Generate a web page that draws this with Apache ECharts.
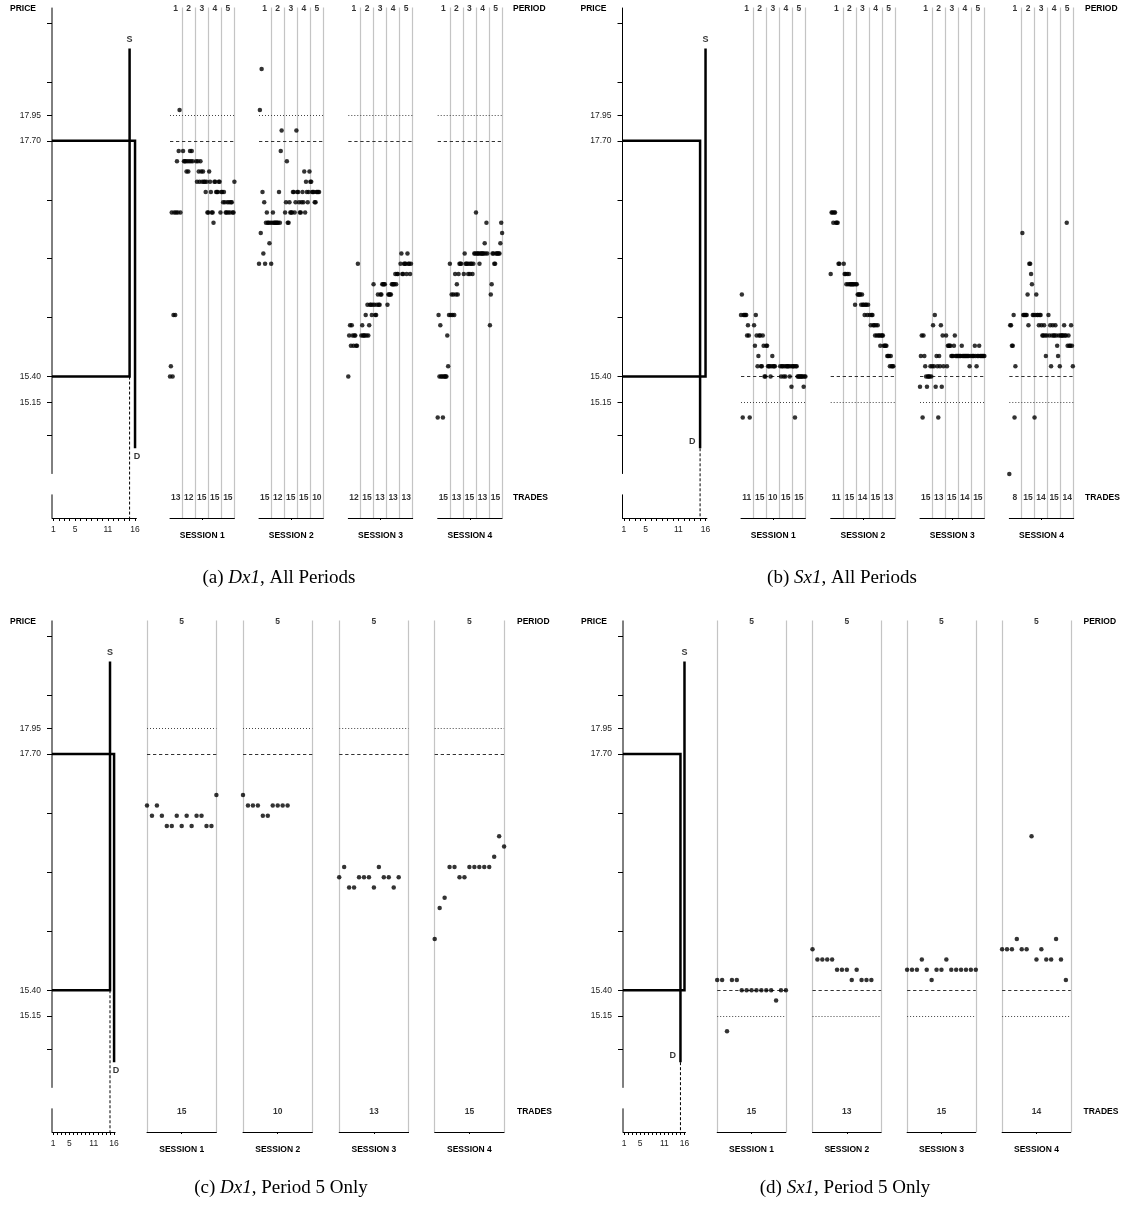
<!DOCTYPE html>
<html>
<head>
<meta charset="utf-8">
<script src="https://cdn.jsdelivr.net/npm/echarts@6/dist/echarts.min.js"></script>
<style>
  html, body { margin: 0; padding: 0; background: #fff; }
  #chart { width: 1126px; height: 1212px; }
</style>
</head>
<body>
<div id="chart"></div>
<script>
// ---------------- values ----------------
// Price axis
const priceTicks = [14.825, 15.15, 15.40, 15.975, 16.55, 17.125, 17.70, 17.95, 18.275, 18.85];
const priceTickLabels = [15.15, 15.40, 17.70, 17.95];
// Quantity axis
const quantityTicks = [1, 2, 3, 4, 5, 6, 7, 8, 9, 10, 11, 12, 13, 14, 15, 16];
const quantityTickLabels = [1, 5, 11, 16];

const sessionNames = ['SESSION 1', 'SESSION 2', 'SESSION 3', 'SESSION 4'];
const periodNames = ['1', '2', '3', '4', '5'];

// Induced supply and demand schedules
const dx1Supply = { units: 15, cost: 15.40 };
const dx1Demand = { units: 16, value: 17.70 };
const sx1Supply = { units: 16, cost: 15.40 };
const sx1Demand = { units: 15, value: 17.70 };

// Reference prices drawn across the session columns
const dx1RefPrices = { dashed: 17.70, dotted: 17.95 };
const sx1RefPrices = { dashed: 15.40, dotted: 15.15 };

// Contract prices, one list per period, in trading order (Dx1)
const dx1Session1 = [
  [15.40, 15.50, 17.00, 15.40, 16.00, 17.00, 16.00, 17.00, 17.50, 17.00, 17.60, 18.00, 17.00],
  [17.60, 17.50, 17.50, 17.50, 17.40, 17.50, 17.40, 17.50, 17.60, 17.50, 17.60, 17.50],
  [17.50, 17.30, 17.50, 17.40, 17.30, 17.50, 17.40, 17.30, 17.40, 17.30, 17.30, 17.20, 17.30, 17.00, 17.00],
  [17.40, 17.30, 17.20, 17.00, 17.00, 16.90, 17.30, 17.30, 17.20, 17.20, 17.20, 17.30, 17.30, 17.00, 17.20],
  [17.20, 17.10, 17.20, 17.10, 17.00, 17.00, 17.10, 17.00, 17.10, 17.00, 17.10, 17.10, 17.00, 17.00, 17.30]
];
const dx1Session2 = [
  [16.50, 18.00, 16.80, 18.40, 17.20, 16.60, 17.10, 16.50, 16.90, 17.00, 16.90, 16.90, 16.70, 16.90, 16.50],
  [16.90, 17.00, 16.90, 16.90, 16.90, 16.90, 16.90, 16.90, 17.20, 16.90, 17.60, 17.80],
  [17.00, 17.10, 17.50, 16.90, 16.90, 17.10, 17.00, 17.00, 17.00, 17.20, 17.20, 17.00, 17.10, 17.80, 17.20],
  [17.20, 17.10, 17.00, 17.00, 17.10, 17.20, 17.10, 17.40, 17.00, 17.30, 17.20, 17.10, 17.20, 17.40, 17.30],
  [17.30, 17.20, 17.20, 17.20, 17.10, 17.10, 17.20, 17.20, 17.20, 17.20]
];
const dx1Session3 = [
  [15.40, 15.80, 15.90, 15.70, 15.90, 15.80, 15.70, 15.80, 15.80, 15.70, 15.70, 16.50],
  [15.80, 15.90, 15.80, 15.80, 15.80, 16.00, 15.80, 16.10, 15.80, 15.90, 16.10, 16.10, 16.00, 16.10, 16.30],
  [16.10, 16.00, 16.00, 16.10, 16.20, 16.10, 16.10, 16.20, 16.20, 16.30, 16.30, 16.30, 16.30],
  [16.10, 16.20, 16.20, 16.20, 16.20, 16.30, 16.30, 16.30, 16.30, 16.40, 16.30, 16.40, 16.40],
  [16.50, 16.60, 16.40, 16.40, 16.50, 16.50, 16.50, 16.40, 16.60, 16.50, 16.50, 16.40, 16.50]
];
const dx1Session4 = [
  [15.00, 16.00, 15.40, 15.90, 15.40, 15.40, 15.00, 15.40, 15.40, 15.40, 15.40, 15.80, 15.50, 16.00, 16.50],
  [16.00, 16.20, 16.00, 16.20, 16.00, 16.40, 16.20, 16.30, 16.20, 16.40, 16.50, 16.50, 16.50],
  [16.40, 16.60, 16.50, 16.50, 16.50, 16.40, 16.50, 16.40, 16.50, 16.50, 16.40, 16.50, 16.60, 16.60, 17.00],
  [16.60, 16.60, 16.60, 16.50, 16.60, 16.60, 16.60, 16.60, 16.60, 16.70, 16.60, 16.90, 16.60],
  [15.90, 16.20, 16.30, 16.60, 16.60, 16.50, 16.50, 16.60, 16.60, 16.60, 16.60, 16.60, 16.70, 16.90, 16.80]
];

// Contract prices, one list per period, in trading order (Sx1)
const sx1Session1 = [
  [16.00, 16.20, 15.00, 16.00, 16.00, 16.00, 16.00, 15.80, 15.90, 15.80, 15.00],
  [15.90, 15.70, 16.00, 15.80, 15.50, 15.60, 15.80, 15.80, 15.50, 15.50, 15.80, 15.70, 15.40, 15.40, 15.70],
  [15.70, 15.50, 15.50, 15.50, 15.40, 15.50, 15.60, 15.50, 15.50, 15.50],
  [15.50, 15.40, 15.50, 15.50, 15.40, 15.50, 15.40, 15.50, 15.50, 15.50, 15.50, 15.40, 15.50, 15.30, 15.50],
  [15.50, 15.50, 15.00, 15.50, 15.50, 15.40, 15.40, 15.40, 15.40, 15.40, 15.40, 15.40, 15.30, 15.40, 15.40]
];
const sx1Session2 = [
  [16.40, 17.00, 17.00, 16.90, 17.00, 17.00, 16.90, 16.90, 16.90, 16.50, 16.50],
  [16.50, 16.40, 16.40, 16.30, 16.40, 16.30, 16.40, 16.30, 16.30, 16.30, 16.30, 16.30, 16.30, 16.10, 16.30],
  [16.30, 16.20, 16.20, 16.20, 16.20, 16.10, 16.20, 16.10, 16.10, 16.00, 16.10, 16.10, 16.00, 16.10],
  [16.00, 15.90, 16.00, 16.00, 15.90, 15.90, 15.80, 15.90, 15.80, 15.90, 15.80, 15.80, 15.70, 15.80, 15.80],
  [15.80, 15.70, 15.70, 15.70, 15.70, 15.60, 15.60, 15.60, 15.50, 15.60, 15.50, 15.50, 15.50]
];
const sx1Session3 = [
  [15.30, 15.60, 15.80, 15.00, 15.80, 15.60, 15.50, 15.40, 15.30, 15.40, 15.40, 15.40, 15.50, 15.40, 15.50],
  [15.90, 15.50, 16.00, 15.30, 15.60, 15.50, 15.00, 15.60, 15.50, 15.90, 15.30, 15.80, 15.50],
  [15.80, 15.50, 15.70, 15.70, 15.70, 15.70, 15.60, 15.60, 15.60, 15.70, 15.80, 15.60, 15.60, 15.60, 15.60],
  [15.60, 15.60, 15.60, 15.70, 15.60, 15.60, 15.60, 15.60, 15.60, 15.60, 15.60, 15.60, 15.50, 15.60],
  [15.60, 15.60, 15.60, 15.70, 15.60, 15.50, 15.60, 15.60, 15.70, 15.60, 15.60, 15.60, 15.60, 15.60, 15.60]
];
const sx1Session4 = [
  [14.45, 15.90, 15.90, 15.70, 15.70, 16.00, 15.00, 15.50],
  [16.80, 16.00, 16.00, 16.00, 16.00, 16.00, 16.20, 15.90, 16.50, 16.50, 16.40, 16.30, 16.00, 16.00, 15.00],
  [16.00, 16.20, 16.00, 16.00, 15.90, 16.00, 16.00, 15.90, 15.80, 15.80, 15.90, 15.80, 15.60, 15.80],
  [16.00, 15.80, 15.90, 15.50, 15.80, 15.90, 15.80, 15.80, 15.90, 15.80, 15.70, 15.60, 15.80, 15.50, 15.80],
  [15.80, 15.80, 15.80, 15.90, 15.80, 15.80, 16.90, 15.70, 15.80, 15.70, 15.70, 15.90, 15.70, 15.50]
];

// ---------------- layout ----------------
const PRICE_MIN = 14.02, PRICE_MAX = 19.00;   // full vertical extent of every grid
const AXIS_LOW = 14.45, STUB_TOP = 14.25;     // broken price axis
const CURVE_TOP = 18.60, CURVE_BOTTOM = 14.70;
const Q_MIN = 0.75, Q_MAX = 16.25;
const SLOTS = 15;                              // trade slots per period column
const PERIOD_ROW = 18.99, TRADES_ROW = 14.215; // rows for the column captions

const FONT = '"Liberation Sans", Arial, Helvetica, sans-serif';
const SERIF = '"Liberation Serif", "Times New Roman", serif';

const panels = [
  { tag: '(a) ', market: 'Dx1', tail: ', All Periods', supply: dx1Supply, demand: dx1Demand, refs: dx1RefPrices,
    sessions: [dx1Session1, dx1Session2, dx1Session3, dx1Session4], period5Only: false,
    top: 7.6, height: 510.4, sdLeft: 52, sdWidth: 84.4,
    sessLeft: [170, 259, 348.3, 437.7], sessWidth: 64.4, sideX: 513, capX: 279, capY: 578, dTag: 'below' },
  { tag: '(b) ', market: 'Sx1', tail: ', All Periods', supply: sx1Supply, demand: sx1Demand, refs: sx1RefPrices,
    sessions: [sx1Session1, sx1Session2, sx1Session3, sx1Session4], period5Only: false,
    top: 7.6, height: 510.4, sdLeft: 622.5, sdWidth: 84.4,
    sessLeft: [741, 830.7, 920, 1009.3], sessWidth: 64.4, sideX: 1085, capX: 842, capY: 578, dTag: 'left' },
  { tag: '(c) ', market: 'Dx1', tail: ', Period 5 Only', supply: dx1Supply, demand: dx1Demand, refs: dx1RefPrices,
    sessions: [dx1Session1, dx1Session2, dx1Session3, dx1Session4], period5Only: true,
    top: 620.5, height: 511.5, sdLeft: 52, sdWidth: 63.1,
    sessLeft: [147, 243, 339.2, 434.7], sessWidth: 69.4, sideX: 517, capX: 281, capY: 1188, dTag: 'below' },
  { tag: '(d) ', market: 'Sx1', tail: ', Period 5 Only', supply: sx1Supply, demand: sx1Demand, refs: sx1RefPrices,
    sessions: [sx1Session1, sx1Session2, sx1Session3, sx1Session4], period5Only: true,
    top: 620.5, height: 511.5, sdLeft: 623, sdWidth: 62.5,
    sessLeft: [717.2, 812.5, 907.1, 1002.1], sessWidth: 68.7, sideX: 1083.5, capX: 845, capY: 1188, dTag: 'left' }
];

const grids = [], xAxes = [], yAxes = [], series = [], graphics = [];

function boldText(size) {
  return { fontFamily: FONT, fontWeight: 'bold', fontSize: size, color: '#000' };
}

function addGrid(left, top, width, height) {
  grids.push({ left: left, top: top, width: width, height: height });
  return grids.length - 1;
}

function tagPoint(x, y, text) {
  return {
    value: [x, y],
    label: Object.assign({ show: true, formatter: text, position: 'inside' }, boldText(8.5))
  };
}

panels.forEach(pn => {
  // ---- supply & demand schedule ----
  const g = addGrid(pn.sdLeft, pn.top, pn.sdWidth, pn.height);
  xAxes.push({
    gridIndex: g, type: 'value', min: Q_MIN, max: Q_MAX,
    axisLine: { show: true, onZero: false, lineStyle: { color: '#000', width: 1 } },
    axisTick: { show: true, customValues: quantityTicks, length: 3, lineStyle: { color: '#000', width: 1 } },
    axisLabel: { show: true, customValues: quantityTickLabels, margin: 7, fontSize: 8.5, fontFamily: FONT, color: '#222' },
    splitLine: { show: false }
  });
  yAxes.push({
    gridIndex: g, type: 'value', min: PRICE_MIN, max: PRICE_MAX,
    axisLine: { show: false },
    axisTick: { show: true, customValues: priceTicks, length: 5, lineStyle: { color: '#000', width: 1 } },
    axisLabel: { show: true, customValues: priceTickLabels, formatter: v => v.toFixed(2), margin: 11,
                 fontSize: 8.5, fontFamily: FONT, color: '#222' },
    splitLine: { show: false }
  });
  const seg = (data, style) => ({
    type: 'line', xAxisIndex: g, yAxisIndex: g, data: data, symbol: 'none', clip: false,
    silent: true, animation: false, lineStyle: style, z: 3
  });
  // price axis, drawn with a break above the quantity axis
  series.push(seg([[Q_MIN, PRICE_MAX], [Q_MIN, AXIS_LOW]], { color: '#000', width: 1 }));
  series.push(seg([[Q_MIN, STUB_TOP], [Q_MIN, PRICE_MIN]], { color: '#000', width: 1 }));
  const s = pn.supply, d = pn.demand;
  series.push(seg([[Q_MIN, s.cost], [s.units, s.cost], [s.units, CURVE_TOP]],
                  { color: '#000', width: 2.5, join: 'miter', cap: 'butt' }));
  series.push(seg([[Q_MIN, d.value], [d.units, d.value], [d.units, CURVE_BOTTOM]],
                  { color: '#000', width: 2.5, join: 'miter', cap: 'butt' }));
  const qEq = Math.min(s.units, d.units);
  const dropFrom = s.units === qEq ? s.cost : CURVE_BOTTOM;
  series.push(seg([[qEq, dropFrom], [qEq, PRICE_MIN]], { color: '#000', width: 1, type: [3, 2] }));
  // S and D tags
  const dLabel = pn.dTag === 'below'
    ? { position: 'bottom', distance: 3, offset: [2, 0] }
    : { position: 'left', distance: 4, offset: [0, -7] };
  series.push({
    type: 'scatter', xAxisIndex: g, yAxisIndex: g, symbolSize: 1, silent: true, animation: false,
    itemStyle: { color: 'rgba(0,0,0,0)' },
    data: [
      { value: [s.units, CURVE_TOP], label: Object.assign({ show: true, formatter: 'S', position: 'top', distance: 4 }, boldText(9)) },
      { value: [d.units, CURVE_BOTTOM], label: Object.assign({ show: true, formatter: 'D' }, dLabel, boldText(9)) }
    ]
  });

  // ---- session columns ----
  pn.sessions.forEach((periods, k) => {
    const gi = addGrid(pn.sessLeft[k], pn.top, pn.sessWidth, pn.height);
    const xMax = pn.period5Only ? SLOTS : SLOTS * periods.length;
    const mid = (1 + xMax) / 2;
    xAxes.push({
      gridIndex: gi, type: 'value', min: 1, max: xMax,
      axisLine: { show: true, onZero: false, lineStyle: { color: '#000', width: 1 } },
      axisTick: { show: true, customValues: [mid], length: 2, lineStyle: { color: '#000' } },
      axisLabel: { show: false }, splitLine: { show: false },
      name: sessionNames[k], nameLocation: 'middle', nameGap: 13,
      nameTextStyle: boldText(8.5)
    });
    yAxes.push({ gridIndex: gi, type: 'value', min: PRICE_MIN, max: PRICE_MAX, show: false });

    const points = [];
    const tags = [];
    if (pn.period5Only) {
      const last = periods[periods.length - 1];
      last.forEach((p, i) => points.push([i + 1, p]));
      tags.push(tagPoint(mid, PERIOD_ROW, periodNames[periods.length - 1]));
      tags.push(tagPoint(mid, TRADES_ROW, String(last.length)));
    } else {
      periods.forEach((arr, pIdx) => {
        arr.forEach((p, i) => points.push([pIdx * SLOTS + i + 1, p]));
        const c = pIdx * SLOTS + SLOTS / 2;
        tags.push(tagPoint(c, PERIOD_ROW, periodNames[pIdx]));
        tags.push(tagPoint(c, TRADES_ROW, String(arr.length)));
      });
    }
    const dividers = pn.period5Only ? [1, SLOTS]
      : periods.map((_, pIdx) => (pIdx + 1) * SLOTS);

    // column dividers, reference prices and captions
    series.push({
      type: 'scatter', xAxisIndex: gi, yAxisIndex: gi, symbolSize: 1, silent: true, animation: false,
      itemStyle: { color: 'rgba(0,0,0,0)' }, z: 1,
      data: tags,
      markLine: {
        silent: true, symbol: ['none', 'none'], animation: false, z: 1,
        label: { show: false },
        emphasis: { disabled: true },
        data: dividers.map(x => ({ xAxis: x, lineStyle: { color: '#c4c4c4', width: 1.2, type: 'solid' } }))
          .concat([
            { yAxis: pn.refs.dashed, lineStyle: { color: '#333', width: 1, type: [3.3, 2.7] } },
            { yAxis: pn.refs.dotted, lineStyle: { color: '#444', width: 1, type: [1, 2] } }
          ])
      }
    });
    // contract prices
    series.push({
      type: 'scatter', xAxisIndex: gi, yAxisIndex: gi, data: points,
      symbol: 'circle', symbolSize: 4.5, itemStyle: { color: '#000' },
      z: 10, silent: true, animation: false
    });
  });

  // ---- side captions ----
  const yOf = p => pn.top + (PRICE_MAX - p) / (PRICE_MAX - PRICE_MIN) * pn.height;
  const sideFont = 'bold 8.5px ' + FONT;
  graphics.push({ type: 'text', x: pn.sdLeft - 16, y: pn.top + 1.5,
    style: { text: 'PRICE', font: sideFont, fill: '#000', align: 'right', verticalAlign: 'middle' } });
  graphics.push({ type: 'text', x: pn.sideX, y: pn.top + 1.5,
    style: { text: 'PERIOD', font: sideFont, fill: '#000', align: 'left', verticalAlign: 'middle' } });
  graphics.push({ type: 'text', x: pn.sideX, y: yOf(TRADES_ROW),
    style: { text: 'TRADES', font: sideFont, fill: '#000', align: 'left', verticalAlign: 'middle' } });
  graphics.push({ type: 'text', x: pn.capX, y: pn.capY,
    style: {
      text: pn.tag + '{i|' + pn.market + '}' + pn.tail,
      font: '19px ' + SERIF, fill: '#000', align: 'center', verticalAlign: 'middle',
      rich: { i: { fontStyle: 'italic', fontFamily: SERIF, fontSize: 19, fill: '#000' } }
    } });
});

const chart = echarts.init(document.getElementById('chart'), null, { renderer: 'canvas' });
chart.setOption({
  animation: false,
  backgroundColor: '#fff',
  textStyle: { fontFamily: FONT },
  grid: grids,
  xAxis: xAxes,
  yAxis: yAxes,
  series: series,
  graphic: graphics
});
</script>
</body>
</html>
